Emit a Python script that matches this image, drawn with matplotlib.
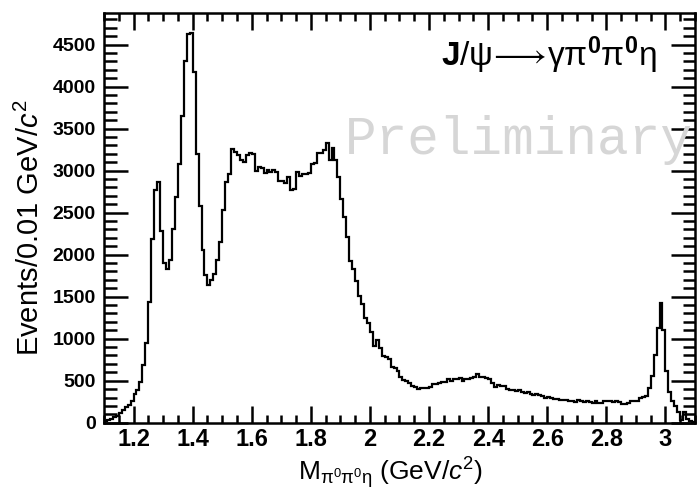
import numpy as np
import matplotlib
matplotlib.use('Agg')
import matplotlib.pyplot as plt
from matplotlib.ticker import MultipleLocator, FormatStrFormatter

plt.rcParams['font.family'] = ['Liberation Sans', 'DejaVu Sans']
plt.rcParams['mathtext.fontset'] = 'custom'
plt.rcParams['mathtext.rm'] = 'Liberation Sans'
plt.rcParams['mathtext.it'] = 'Liberation Sans:italic'
plt.rcParams['mathtext.bf'] = 'Liberation Sans:bold'

# binning: 0.01 GeV bins from 1.10 to 3.10
bin_lo = 1.10
bin_hi = 3.10
n_bins = 200

# events per bin
counts = [
    15, 30, 45, 65, 85, 110, 150, 185, 215, 255,
    340, 390, 490, 690, 945, 1440, 2190, 2770, 2860, 2280,
    1900, 1835, 1935, 2310, 2680, 3075, 3650, 4310, 4630, 4640,
    4175, 3200, 2575, 2060, 1755, 1637, 1695, 1775, 1940, 2150,
    2535, 2865, 2965, 3260, 3220, 3180, 3125, 3100, 3180, 3210,
    3195, 2995, 3045, 3035, 2970, 3010, 2985, 3005, 2985, 2880,
    2875, 2858, 2918, 2775, 2780, 2985, 2933, 2957, 2965, 2974,
    3084, 3090, 3211, 3211, 3242, 3329, 3132, 3263, 3132, 2918,
    2668, 2442, 2204, 1926, 1824, 1689, 1506, 1411, 1241, 1189,
    1082, 912, 983, 885, 793, 778, 754, 666, 647, 618,
    547, 507, 496, 468, 436, 421, 397, 409, 416, 409,
    421, 460, 460, 468, 488, 488, 516, 500, 516, 516,
    528, 500, 520, 520, 535, 550, 585, 545, 550, 530,
    520, 470, 430, 450, 440, 435, 400, 395, 390, 380,
    385, 370, 355, 360, 345, 335, 340, 325, 315, 300,
    305, 295, 285, 285, 275, 270, 265, 255, 260, 245,
    265, 255, 250, 260, 245, 240, 255, 235, 230, 255,
    260, 255, 250, 255, 250, 225, 225, 240, 255, 260,
    260, 290, 305, 320, 410, 560, 805, 1122, 1420, 1102,
    620, 360, 260, 200, 130, 35, 130, 50, 15, 10,
]

edges = np.linspace(bin_lo, bin_hi, n_bins + 1)

fig = plt.figure(figsize=(6.97, 4.90), dpi=100)
ax = fig.add_axes([0.1492, 0.1373, 0.8479, 0.8356])

ax.stairs(counts, edges, color='black', linewidth=1.6, baseline=0)

ax.set_xlim(1.1, 3.1)
ax.set_ylim(0, 1.05 * max(counts))

ax.xaxis.set_major_locator(MultipleLocator(0.2))
ax.xaxis.set_minor_locator(MultipleLocator(0.05))
ax.xaxis.set_major_formatter(FormatStrFormatter('%g'))
ax.yaxis.set_major_locator(MultipleLocator(500))
ax.yaxis.set_minor_locator(MultipleLocator(100))

ax.tick_params(which='both', direction='in', top=True, right=True, width=1.8)
ax.tick_params(axis='x', which='major', length=12, pad=4, labelsize=17)
ax.tick_params(axis='x', which='minor', length=6)
ax.tick_params(axis='y', which='major', length=17, pad=6, labelsize=14)
ax.tick_params(axis='y', which='minor', length=9)
for lab in ax.get_xticklabels() + ax.get_yticklabels():
    lab.set_fontweight('bold')
for sp in ax.spines.values():
    sp.set_linewidth(1.8)

ax.set_xlabel(r'M$_{\mathrm{\pi}^{0}\mathrm{\pi}^{0}\mathrm{\eta}}$ (GeV/$c^{2}$)', fontsize=19)
ax.xaxis.set_label_coords(0.485, -0.08)
ax.set_ylabel(r'Events/0.01 GeV/$c^{2}$', fontsize=21)
ax.yaxis.set_label_coords(-0.1, 0.475)

ax.text(0.936, 0.898,
        r'$\mathbf{J}/\mathrm{\psi}\!\longrightarrow\!\mathrm{\gamma\pi}^{\mathbf{0}}\mathrm{\pi}^{\mathbf{0}}\mathrm{\eta}$',
        transform=ax.transAxes, ha='right', va='center', fontsize=24)
ax.text(0.408, 0.69, 'Preliminary', transform=ax.transAxes, ha='left', va='center',
        fontsize=38, color='#d6d6d6', family='Liberation Mono', clip_on=False)

fig.savefig('out.png', dpi=100)
